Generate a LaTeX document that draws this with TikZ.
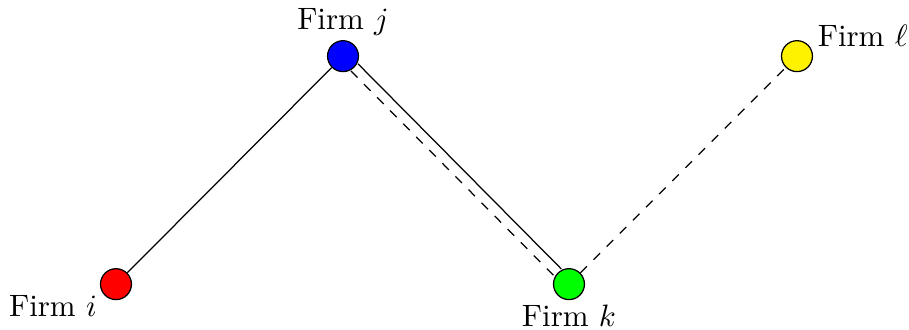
\documentclass[tikz,border=0pt]{standalone}
\usetikzlibrary{positioning}
\tikzset{
  firm/.style={circle, draw=black, minimum size=10pt, inner sep=0pt},
  linkS/.style={black},
  linkD/.style={black, dashed},
}
\begin{document}
\begin{tikzpicture}
  \useasboundingbox (0,0) rectangle (10.33,3.74);
  % firms
  \node[firm, fill=red] (i) at (1.318,0.511) {};
  \node[firm, fill=blue] (j) at (3.898,3.102) {};
  \node[firm, fill=green] (k) at (6.466,0.511) {};
  \node[firm, fill=yellow] (l) at (9.057,3.102) {};
  % labels
  \node[anchor=north east, xshift=2.5pt] (li) at (i.west) {Firm $i$};
  \node[above=-2pt of j] (lj) {Firm $j$};
  \node[below=-2pt of k] (lk) {Firm $k$};
  \node[above right=-0.5pt and -2pt of l.east] (ll) {Firm $\ell$};
  % links
  \draw[linkS] (i) -- (j);
  \draw[linkS, transform canvas={shift={(1.2pt,1.2pt)}}] (j) -- (k);
  \draw[linkD, transform canvas={shift={(-1.1pt,-1.1pt)}}] (j) -- (k);
  \draw[linkD] (k) -- (l);
\end{tikzpicture}
\end{document}
